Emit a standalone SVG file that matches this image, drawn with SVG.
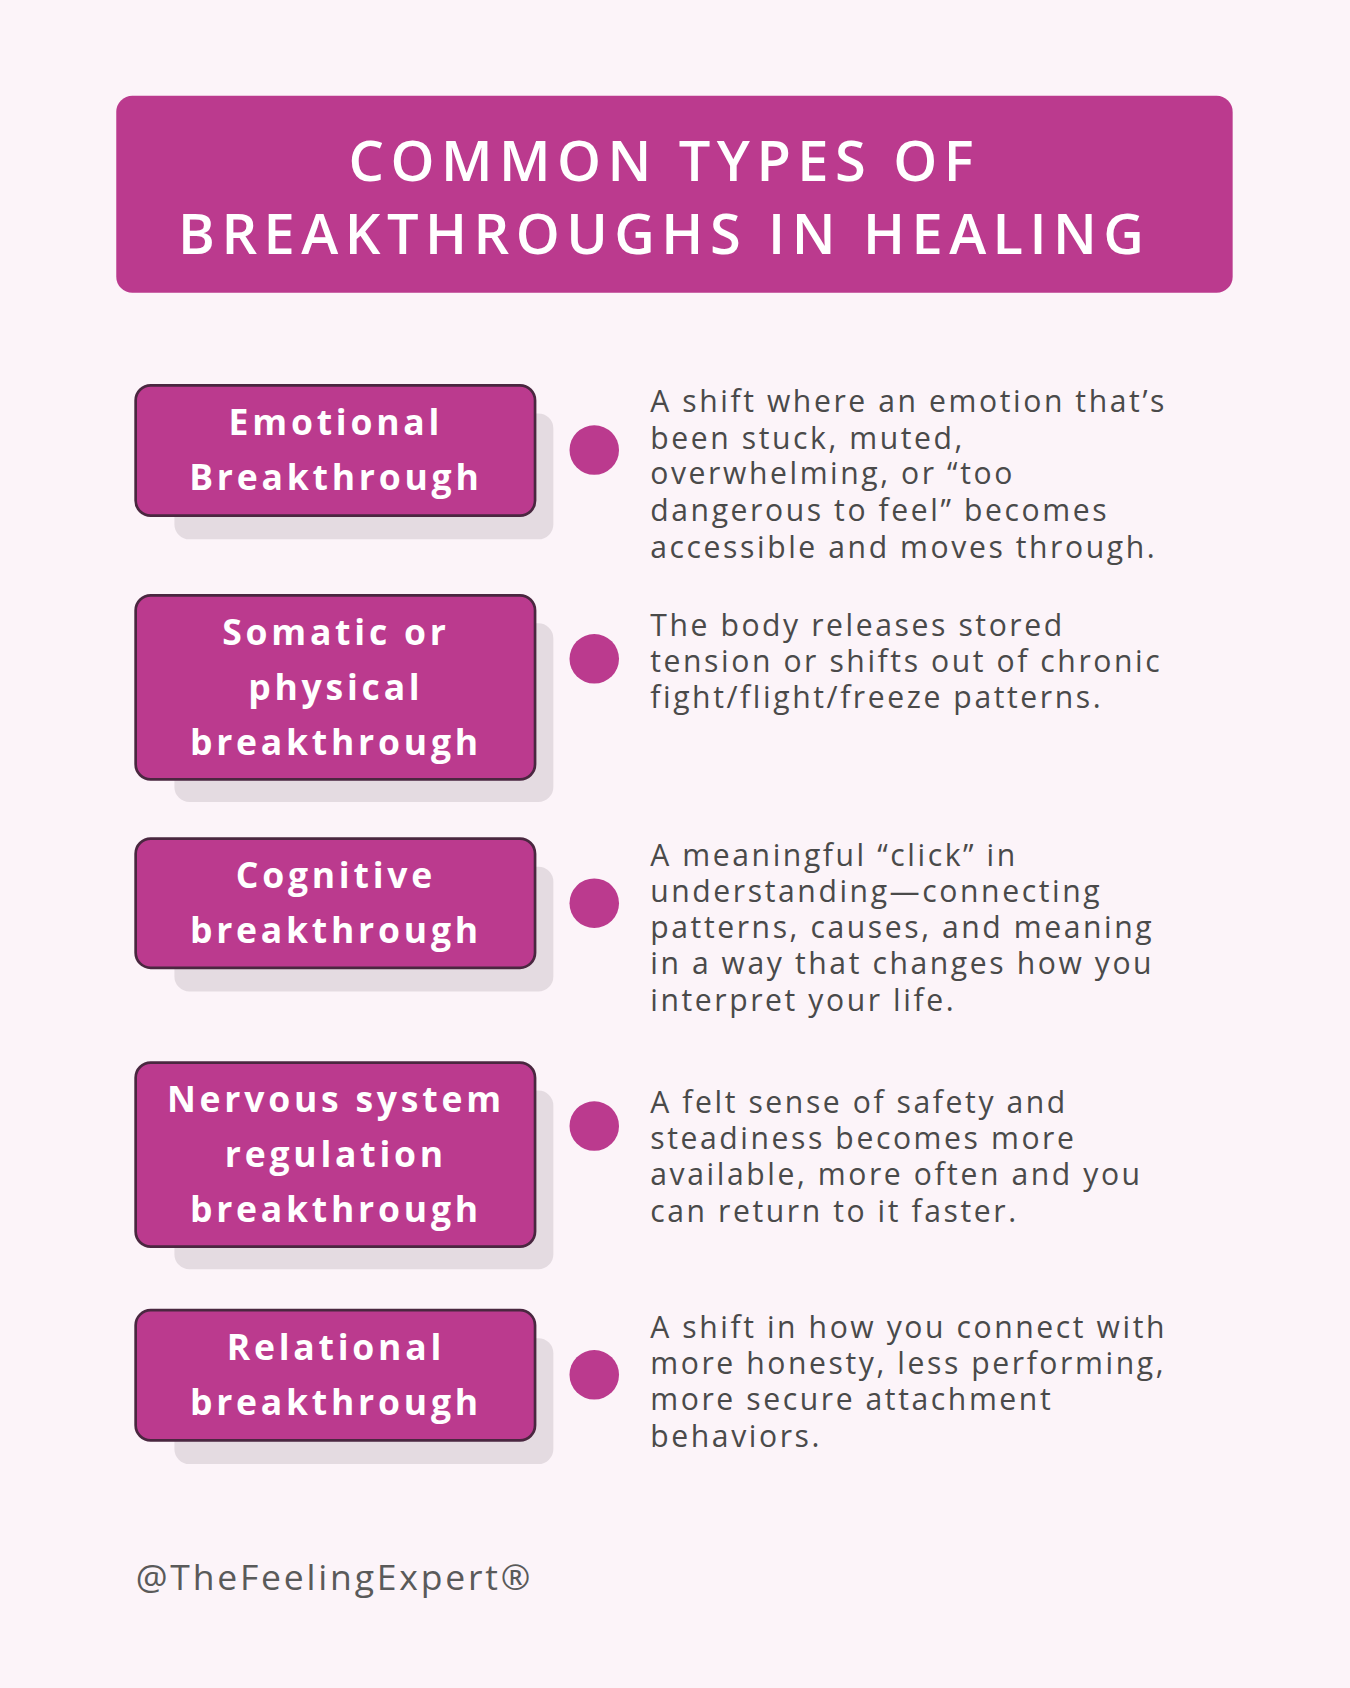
<svg xmlns="http://www.w3.org/2000/svg" width="1350" height="1688" viewBox="0 0 1350 1688">
<style>
.bg{fill:#fcf4f9}
.hdr{fill:#bb3a8e}
.ht{fill:#fff;font-family:"Open Sans",sans-serif;font-weight:600;font-size:52px;letter-spacing:6px;text-anchor:middle}
.sh{fill:#e4dbe1}
.bx{fill:#bb3a8e;stroke:#4a2740;stroke-width:2.5}
.bt{fill:#fff;font-family:"Open Sans",sans-serif;font-weight:700;font-size:33px;letter-spacing:3.5px;text-anchor:middle}
.dot{fill:#bb3a8e}
.dt{fill:#4a4a4a;font-family:"Open Sans",sans-serif;font-size:28px;letter-spacing:2.4px}
.ft{fill:#5a5a5a;font-family:"Open Sans",sans-serif;font-size:33px;letter-spacing:2.6px}
</style>
<rect class="bg" width="1350" height="1688"/>
<g transform="scale(1.07656)">
<g id="header">
<rect class="hdr" x="108" y="89" width="1037" height="183" rx="15"/>
<text class="ht" x="617" y="168">COMMON TYPES OF</text>
<text class="ht" x="617" y="236">BREAKTHROUGHS IN HEALING</text>
</g>
<g id="node1">
<rect class="sh" x="162" y="384" width="352" height="117" rx="14"/>
<rect class="bx" x="126" y="358" width="371" height="121" rx="14"/>
<text class="bt" x="312" y="404">Emotional</text>
<text class="bt" x="312" y="455">Breakthrough</text>
<circle class="dot" cx="552" cy="418" r="23"/>
<text class="dt" x="604" y="383">A shift where an emotion that’s</text>
<text class="dt" x="604" y="417">been stuck, muted,</text>
<text class="dt" x="604" y="450">overwhelming, or “too</text>
<text class="dt" x="604" y="484">dangerous to feel” becomes</text>
<text class="dt" x="604" y="518">accessible and moves through.</text>
</g>
<g id="node2">
<rect class="sh" x="162" y="579" width="352" height="166" rx="14"/>
<rect class="bx" x="126" y="553" width="371" height="171" rx="14"/>
<text class="bt" x="312" y="599">Somatic or</text>
<text class="bt" x="312" y="650">physical</text>
<text class="bt" x="312" y="701">breakthrough</text>
<circle class="dot" cx="552" cy="612" r="23"/>
<text class="dt" x="604" y="591">The body releases stored</text>
<text class="dt" x="604" y="624">tension or shifts out of chronic</text>
<text class="dt" x="604" y="658">fight/flight/freeze patterns.</text>
</g>
<g id="node3">
<rect class="sh" x="162" y="805" width="352" height="116" rx="14"/>
<rect class="bx" x="126" y="779" width="371" height="120" rx="14"/>
<text class="bt" x="312" y="825">Cognitive</text>
<text class="bt" x="312" y="876">breakthrough</text>
<circle class="dot" cx="552" cy="839" r="23"/>
<text class="dt" x="604" y="804">A meaningful “click” in</text>
<text class="dt" x="604" y="838">understanding—connecting</text>
<text class="dt" x="604" y="871">patterns, causes, and meaning</text>
<text class="dt" x="604" y="905">in a way that changes how you</text>
<text class="dt" x="604" y="939">interpret your life.</text>
</g>
<g id="node4">
<rect class="sh" x="162" y="1013" width="352" height="166" rx="14"/>
<rect class="bx" x="126" y="987" width="371" height="171" rx="14"/>
<text class="bt" x="312" y="1033">Nervous system</text>
<text class="bt" x="312" y="1084">regulation</text>
<text class="bt" x="312" y="1135">breakthrough</text>
<circle class="dot" cx="552" cy="1046" r="23"/>
<text class="dt" x="604" y="1034">A felt sense of safety and</text>
<text class="dt" x="604" y="1067">steadiness becomes more</text>
<text class="dt" x="604" y="1101">available, more often and you</text>
<text class="dt" x="604" y="1135">can return to it faster.</text>
</g>
<g id="node5">
<rect class="sh" x="162" y="1243" width="352" height="117" rx="14"/>
<rect class="bx" x="126" y="1217" width="371" height="121" rx="14"/>
<text class="bt" x="312" y="1263">Relational</text>
<text class="bt" x="312" y="1314">breakthrough</text>
<circle class="dot" cx="552" cy="1277" r="23"/>
<text class="dt" x="604" y="1243">A shift in how you connect with</text>
<text class="dt" x="604" y="1276">more honesty, less performing,</text>
<text class="dt" x="604" y="1310">more secure attachment</text>
<text class="dt" x="604" y="1344">behaviors.</text>
</g>
<g id="connectors"/>
<text class="ft" x="126" y="1477">@TheFeelingExpert®</text>
</g>
</svg>
